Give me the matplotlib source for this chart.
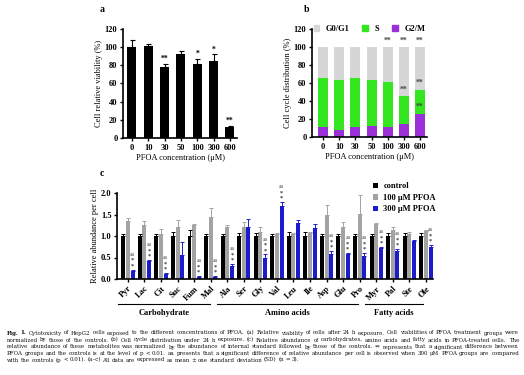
import matplotlib
matplotlib.use('Agg')
import matplotlib.pyplot as plt
import numpy as np
from matplotlib.patches import Patch

plt.rcParams['font.family'] = ['Liberation Serif', 'DejaVu Serif']
plt.rcParams['font.weight'] = 'bold'
plt.rcParams['axes.linewidth'] = 1.2

# panel a: cell viability
conc = ['0', '10', '30', '50', '100', '300', '600']
viab = [100, 101, 78, 92, 82, 85, 12]
viab_err = [8, 2, 4, 4, 5, 7, 1]
viab_sig = ['', '', '**', '', '*', '*', '**']

# panel b: cell cycle distribution
g2m = [11, 8, 11, 12, 11, 14, 26]
s_phase = [54, 55, 54, 51, 50, 32, 26]
g0g1 = [35, 37, 35, 37, 39, 54, 48]

# panel c: relative abundance
metab = ['Pyr', 'Lac', 'Cit', 'Suc', 'Fum', 'Mal', 'Ala', 'Ser', 'Gly', 'Val',
         'Leu', 'Ile', 'Asp', 'Glu', 'Pro', 'Myr', 'Pal', 'Ste', 'Ole']
ctrl = [1.0] * 19
ctrl_err = [0.05, 0.04, 0.05, 0.1, 0.15, 0.04, 0.04, 0.08, 0.06, 0.05,
            0.1, 0.1, 0.05, 0.05, 0.05, 0.05, 0.06, 0.06, 0.06]
p100 = [1.35, 1.26, 1.05, 1.22, 1.25, 1.44, 1.20, 1.20, 1.10, 1.05,
        1.05, 1.07, 1.48, 1.22, 1.52, 1.28, 1.15, 1.05, 1.11]
p100_err = [0.08, 0.08, 0.12, 0.16, 0.03, 0.22, 0.06, 0.12, 0.12, 0.02,
            0.03, 0.03, 0.24, 0.1, 0.44, 0.03, 0.05, 0.05, 0.03]
p300 = [0.18, 0.41, 0.12, 0.56, 0.05, 0.05, 0.31, 1.21, 0.50, 1.70,
        1.31, 1.18, 0.59, 0.57, 0.54, 0.72, 0.65, 0.88, 0.75]
p300_err = [0.04, 0.04, 0.03, 0.29, 0.02, 0.02, 0.04, 0.18, 0.07, 0.09,
            0.06, 0.1, 0.07, 0.04, 0.06, 0.03, 0.04, 0.03, 0.04]
p300_sig = [1, 1, 1, 0, 1, 1, 1, 0, 1, 1, 0, 0, 1, 1, 1, 1, 1, 0, 1]

groups = ['Carbohydrate', 'Amino acids', 'Fatty acids']
group_span = [(-0.6, 4.95), (5.38, 13.9), (14.3, 17.8)]

caption = [
    "Fig. 1. Cytotoxicity of HepG2 cells exposed to the different concentrations of PFOA. (a) Relative viability of cells after 24 h exposure. Cell viabilities of PFOA treatment groups were",
    "normalized by those of the controls. (b) Cell cycle distribution under 24 h exposure. (c) Relative abundance of carbohydrates, amino acids and fatty acids in PFOA-treated cells. The",
    "relative abundance of these metabolites was normalized by the abundance of internal standard followed by those of the controls. ** represents that a significant difference between",
    "PFOA groups and the controls is at the level of p < 0.01. aa presents that a significant difference of relative abundance per cell is observed when 300 \u03bcM PFOA groups are compared",
    "with the controls (p < 0.01). (a\u2013c) All data are expressed as mean \u00b1 one standard deviation (SD) (n = 3).",
]

W, H = 524, 375
fig = plt.figure(figsize=(W / 100, H / 100), dpi=100)

def px_axes(l, t, r, b):
    return fig.add_axes([l / W, 1 - b / H, (r - l) / W, (b - t) / H])

fs = 6

def style(ax):
    for sp in ['top', 'right']:
        ax.spines[sp].set_visible(False)
    ax.tick_params(labelsize=fs, length=2.5, width=1, pad=1.5)

# ---- a
axa = px_axes(123, 29, 237, 138)
x = np.arange(len(conc))
axa.bar(x, viab, width=0.55, color='black',
        yerr=[np.zeros(7), viab_err], error_kw=dict(ecolor='black', capsize=1.8, elinewidth=0.8, capthick=0.8))
for i in range(7):
    if viab_sig[i]:
        axa.text(x[i], viab[i] + viab_err[i] + 1, viab_sig[i], ha='center', va='bottom', fontsize=5.5)
axa.set_xlim(-0.55, 6.43)
axa.set_ylim(0, 120)
axa.set_yticks(range(0, 121, 20))
axa.set_xticks(x, conc)
axa.set_xlabel('PFOA concentration (\u03bcM)', fontsize=fs, labelpad=1.5)
axa.set_ylabel('Cell relative viability (%)', fontsize=fs, labelpad=1.5)
style(axa)
fig.text(102 / W, 1 - 10 / H, 'a', fontsize=7, ha='center', va='center')

# ---- b
axb = px_axes(312, 29, 427, 137)
c_g2m, c_s, c_g0 = '#9b30d8', '#33e61f', '#d6d6d6'
axb.bar(x, g2m, width=0.62, color=c_g2m)
axb.bar(x, s_phase, width=0.62, bottom=g2m, color=c_s)
axb.bar(x, g0g1, width=0.62, bottom=np.add(g2m, s_phase), color=c_g0)
for i in [4, 5, 6]:
    axb.text(x[i], 103, '**', ha='center', va='bottom', fontsize=5.5, color='#444444')
axb.text(5, 48, '**', ha='center', va='bottom', fontsize=5.5, color='#444444')
axb.text(6, 56, '**', ha='center', va='bottom', fontsize=5.5, color='#444444')
axb.text(6, 29, '**', ha='center', va='bottom', fontsize=5.5, color='#444444')
axb.set_xlim(-0.68, 6.43)
axb.set_ylim(0, 120)
axb.set_yticks(range(0, 121, 20))
axb.set_xticks(x, conc)
axb.set_xlabel('PFOA concentration (\u03bcM)', fontsize=fs, labelpad=1.5)
axb.set_ylabel('Cell cycle distribution (%)', fontsize=fs, labelpad=1.5)
style(axb)
axb.legend([Patch(color=c_g0), Patch(color=c_s), Patch(color=c_g2m)], ['G0/G1', 'S', 'G2/M'],
           loc='center', bbox_to_anchor=(0.5, 1.0), ncol=3, frameon=False, fontsize=fs,
           handlelength=0.7, handleheight=0.7, handletextpad=0.8, columnspacing=1.5)
fig.text(307 / W, 1 - 10 / H, 'b', fontsize=7, ha='center', va='center')

# ---- c
axc = px_axes(117, 193, 433, 279)
xc = np.arange(len(metab))
bw, off = 0.24, 0.28
ek = dict(capsize=1.2, elinewidth=0.7, capthick=0.7)
z = np.zeros(len(metab))
axc.bar(xc - off, ctrl, bw, color='black', yerr=[z, ctrl_err], error_kw=dict(ecolor='black', **ek), label='control')
axc.bar(xc, p100, bw, color='#a3a3a3', yerr=[z, p100_err], error_kw=dict(ecolor='#a3a3a3', **ek), label='100 \u03bcM PFOA')
axc.bar(xc + off, p300, bw, color='#1c1ccc', yerr=[z, p300_err], error_kw=dict(ecolor='#1c1ccc', **ek), label='300 \u03bcM PFOA')
for i in range(len(metab)):
    if p300_sig[i]:
        top = p300[i] + p300_err[i]
        axc.text(xc[i] + off, top + 0.03, '*', ha='center', va='bottom', fontsize=4.5, color='#333333', clip_on=False)
        axc.text(xc[i] + off, top + 0.15, '*', ha='center', va='bottom', fontsize=4.5, color='#333333', clip_on=False)
        axc.text(xc[i] + off, top + 0.30, 'aa', ha='center', va='bottom', fontsize=4, fontweight='normal', color='#555555', clip_on=False)
axc.set_xlim(-0.66, 18.43)
axc.set_ylim(0, 2.0)
axc.set_yticks([0, 0.5, 1.0, 1.5, 2.0], ['0.0', '0.5', '1.0', '1.5', '2.0'])
axc.set_xticks(xc, metab, rotation=45, ha='right', rotation_mode='anchor')
axc.set_ylabel('Relative abundance per cell', fontsize=fs, labelpad=1.5)
style(axc)
trans = axc.get_xaxis_transform()
for name, (a0, a1) in zip(groups, group_span):
    axc.plot([a0, a1], [-0.29, -0.29], color='black', lw=0.8, transform=trans, clip_on=False)
    axc.text((a0 + a1) / 2, -0.40, name, ha='center', va='center', fontsize=fs, transform=trans)
axc.legend(loc='upper left', bbox_to_anchor=(365 / W, 1 - 175 / H), bbox_transform=fig.transFigure,
           frameon=False, fontsize=fs, handlelength=0.6, handleheight=0.6, handletextpad=0.7, labelspacing=0.4)
fig.text(102 / W, 1 - 173 / H, 'c', fontsize=7, ha='center', va='center')

# ---- caption, justified word by word
fig.canvas.draw()
r = fig.canvas.get_renderer()
x0, x1 = 7, 519
ys = [333, 340, 347, 353.5, 360]
cap_font = 'DejaVu Serif'
probe = fig.text(0, 0, caption[0], fontsize=4.0, fontweight='normal', family=cap_font)
cap_fs = 4.0 * 502 / probe.get_window_extent(r).width
probe.remove()
for i, line in enumerate(caption):
    words = line.split(' ')
    ts = []
    for j, w in enumerate(words):
        bold = (i == 0 and j < 2)
        ts.append(fig.text(0, 1 - ys[i] / H, w, fontsize=cap_fs, va='center', ha='left', family=cap_font,
                           fontweight='bold' if bold else 'normal', color='#111111'))
    widths = [t.get_window_extent(r).width for t in ts]
    space = (x1 - x0 - sum(widths)) / (len(words) - 1)
    if i == len(caption) - 1:
        space = 1.7
    pos = x0
    for t, w in zip(ts, widths):
        t.set_x(pos / W)
        pos += w + space

fig.savefig('out.png', dpi=100)
